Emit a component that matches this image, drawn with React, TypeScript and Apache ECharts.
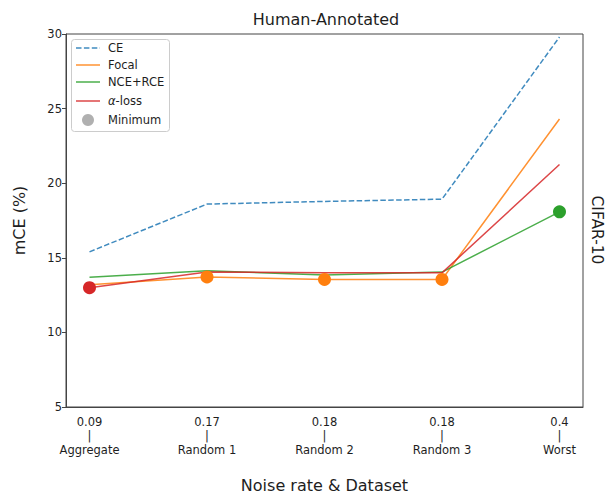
import React, { useEffect, useRef } from "react";
import * as echarts from "echarts";

const categories = ["Aggregate", "Random 1", "Random 2", "Random 3", "Worst"];
const noiseRates = ["0.09", "0.17", "0.18", "0.18", "0.4"];
const ceValues = [15.4, 18.6, 18.78, 18.93, 29.8];
const focalValues = [13.2, 13.72, 13.55, 13.55, 24.3];
const nceRceValues = [13.7, 14.13, 13.85, 14.04, 18.08];
const alphaLossValues = [13.0, 14.05, 14.0, 13.99, 21.25];
const yTicks = { min: 5, max: 30, interval: 5 };

const seriesDefs = [
  { name: "CE", values: ceValues, color: "#1f77b4", dashed: true },
  { name: "Focal", values: focalValues, color: "#ff7f0e", dashed: false },
  { name: "NCE+RCE", values: nceRceValues, color: "#2ca02c", dashed: false },
  { name: "α-loss", values: alphaLossValues, color: "#d62728", dashed: false },
];

const FONT = "DejaVu Sans";
const TXT = "#1e1e1e";

export default function App() {
  const ref = useRef<HTMLDivElement>(null);
  useEffect(() => {
    document.body.style.margin = "0";
    const chart = echarts.init(ref.current!, null, { renderer: "svg" });

    const minPoints = categories.map((_, i) => {
      let best = 0;
      seriesDefs.forEach((s, k) => {
        if (s.values[i] < seriesDefs[best].values[i]) best = k;
      });
      return {
        value: [i, seriesDefs[best].values[i]],
        itemStyle: { color: seriesDefs[best].color, opacity: 1 },
      };
    });

    const lineSeries = seriesDefs.map((s) => ({
      name: s.name,
      type: "line",
      data: s.values.map((v, i) => [i, v]),
      symbol: "none",
      z: 2,
      lineStyle: {
        color: s.color,
        width: 1.5,
        opacity: 0.85,
        type: s.dashed ? [5.5, 2.4] : "solid",
      },
    }));

    const legendRows = [
      { y: 48, label: "CE", color: "#1f77b4", dashed: true },
      { y: 65, label: "Focal", color: "#ff7f0e", dashed: false },
      { y: 82, label: "NCE+RCE", color: "#2ca02c", dashed: false },
      { y: 101, label: "{a|α}-loss", color: "#d62728", dashed: false },
    ];

    const legendGraphics: any[] = [
      {
        type: "rect",
        shape: { x: 71.5, y: 39.5, width: 98, height: 92, r: 3 },
        style: { fill: "rgba(255,255,255,0.85)", stroke: "#cccccc", lineWidth: 1 },
        z: 10,
      },
    ];
    legendRows.forEach((r) => {
      legendGraphics.push({
        type: "line",
        shape: { x1: 76, y1: r.y, x2: 100, y2: r.y },
        style: {
          stroke: r.color,
          lineWidth: 1.5,
          opacity: 0.85,
          lineDash: r.dashed ? [5.5, 2.4] : null,
        },
        z: 11,
      });
      legendGraphics.push({
        type: "text",
        x: 108,
        y: r.y,
        style: {
          text: r.label,
          fontFamily: FONT,
          fontSize: 11.5,
          fill: TXT,
          verticalAlign: "middle",
          rich: { a: { fontStyle: "italic", fontFamily: FONT, fontSize: 11.5, fill: TXT } },
        },
        z: 11,
      });
    });
    legendGraphics.push({
      type: "circle",
      shape: { cx: 88, cy: 120, r: 6 },
      style: { fill: "#b0b0b0" },
      z: 11,
    });
    legendGraphics.push({
      type: "text",
      x: 108,
      y: 120,
      style: {
        text: "Minimum",
        fontFamily: FONT,
        fontSize: 11.5,
        fill: TXT,
        verticalAlign: "middle",
      },
      z: 11,
    });

    chart.setOption({
      animation: false,
      backgroundColor: "#ffffff",
      textStyle: { fontFamily: FONT },
      title: {
        text: "Human-Annotated",
        left: 321,
        top: 6,
        textAlign: "center",
        textStyle: { fontFamily: FONT, fontSize: 16, fontWeight: "normal", color: TXT },
      },
      grid: {
        left: 66,
        right: 25,
        top: 34,
        bottom: 87,
        show: true,
        borderColor: "#444",
        borderWidth: 1,
      },
      xAxis: {
        type: "value",
        min: -0.2,
        max: 4.2,
        name: "Noise rate & Dataset",
        nameLocation: "middle",
        nameGap: 70,
        nameTextStyle: { fontFamily: FONT, fontSize: 16, color: TXT },
        axisLine: { show: true, onZero: false, lineStyle: { color: "#444" } },
        axisTick: { show: false },
        splitLine: { show: false },
        axisLabel: {
          customValues: [0, 1, 2, 3, 4],
          formatter: (v: number) => {
            const i = Math.round(v);
            return `${noiseRates[i]}\n|\n${categories[i]}`;
          },
          fontFamily: FONT,
          fontSize: 11.5,
          lineHeight: 14,
          color: TXT,
          margin: 8,
        },
      },
      yAxis: {
        type: "value",
        min: yTicks.min,
        max: yTicks.max,
        interval: yTicks.interval,
        name: "mCE (%)",
        nameLocation: "middle",
        nameGap: 39,
        nameTextStyle: { fontFamily: FONT, fontSize: 16, color: TXT },
        axisLine: { show: true, onZero: false, lineStyle: { color: "#444" } },
        axisTick: { show: true, length: 4, lineStyle: { color: "#444" } },
        splitLine: { show: false },
        axisLabel: { fontFamily: FONT, fontSize: 11.5, color: TXT, margin: 4 },
      },
      series: [
        ...lineSeries,
        {
          name: "Minimum",
          type: "scatter",
          data: minPoints,
          symbol: "circle",
          symbolSize: 13,
          itemStyle: { opacity: 1 },
          z: 3,
        },
      ],
      graphic: [
        ...legendGraphics,
        {
          type: "text",
          x: 597,
          y: 230,
          rotation: -Math.PI / 2,
          style: {
            text: "CIFAR-10",
            fontFamily: FONT,
            fontSize: 15.5,
            fill: TXT,
            align: "center",
            verticalAlign: "middle",
          },
        },
      ],
    });
    return () => chart.dispose();
  }, []);
  return <div ref={ref} style={{ width: 608, height: 498 }} />;
}
